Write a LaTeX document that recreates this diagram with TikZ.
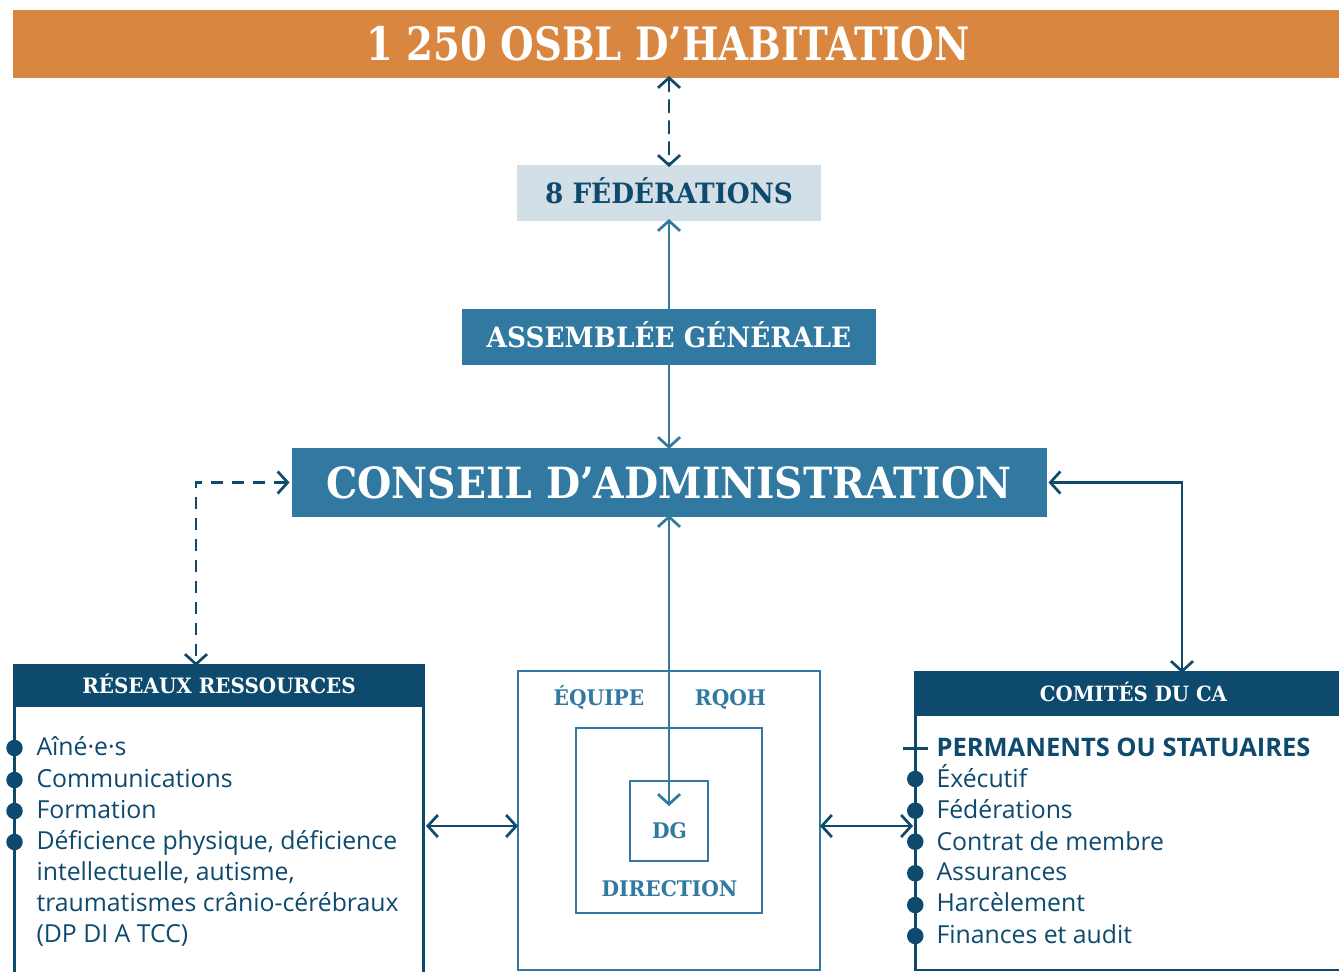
\documentclass[tikz,border=0pt]{standalone}
\usepackage{fontspec}
\setmainfont{Open Sans}
\newfontfamily\slab[FakeStretch=0.94]{DejaVu Serif}
\newfontfamily\slabtitle[FakeStretch=0.84]{DejaVu Serif}
\newfontfamily\slabca[FakeStretch=0.915]{DejaVu Serif}
\usetikzlibrary{arrows.meta}
\definecolor{orangeb}{HTML}{D98740}
\definecolor{lightb}{HTML}{D3DFE6}
\definecolor{medb}{HTML}{3179A1}
\definecolor{navy}{HTML}{0E4A6E}
\tikzset{barb/.tip={Straight Barb[length=10pt,width=22pt]}}
\begin{document}
\begin{tikzpicture}[x=1pt,y=-1pt,
  every node/.style={inner sep=0pt, outer sep=0pt},
  hd/.style={font=\slab\bfseries\fontsize{#1}{#1}\selectfont, text height=0.729*#1pt, text depth=0pt},
  body/.style={font=\fontsize{24.8}{24.8}\selectfont, text=navy, anchor=base west},
  bodyb/.style={font=\bfseries\fontsize{25.5}{25.5}\selectfont, text=navy, anchor=base west},
  conn/.style={line width=2.7pt, draw=#1, arrows={barb-barb}, line cap=round},
  conn/.default=navy,
  dashconn/.style={conn, dash pattern=on 12pt off 9pt},
  frame/.style={line width=2.8pt, draw=#1},
  dot/.style={circle, fill=navy, minimum size=16.5pt},
]
\clip (0,0) rectangle (1339,972);
\fill[white] (0,0) rectangle (1339,972);

% top bar
\node[fill=orangeb, minimum width=1326pt, minimum height=68pt, anchor=north west] (osbl) at (13,10) {};
\node[font=\slabtitle\bfseries\fontsize{46}{46}\selectfont, text height=33.5pt, text depth=0pt, text=white] (osbltxt) at (668,44) {1 250 OSBL D’HABITATION};

% federations
\node[fill=lightb, minimum width=304pt, minimum height=56pt, hd=28, text=navy] (fed) at (669,193) {8 FÉDÉRATIONS};

% assemblee
\node[fill=medb, minimum width=414pt, minimum height=56pt, hd=28, text=white] (ag) at (669,337) {ASSEMBLÉE GÉNÉRALE};

% conseil
\node[fill=medb, minimum width=755pt, minimum height=69pt, font=\slabca\bfseries\fontsize{43}{43}\selectfont, text height=31.3pt, text depth=0pt, text=white] (ca) at (669,482.5) {CONSEIL D’ADMINISTRATION};

% reseaux
\node[fill=navy, minimum width=412pt, minimum height=43pt, anchor=north west] (rr) at (13,664) {};
\node[hd=21.2, text=white] (rrtxt) at (219,686) {RÉSEAUX RESSOURCES};
\coordinate (rrbl) at (14.5,975);
\coordinate (rrbr) at (423.5,975);
\draw[frame=navy] (rr.south west -| rrbl) -- (rrbl);
\draw[frame=navy] (rr.south east -| rrbr) -- (rrbr);

\node[dot] (r1) at (14.5,748) {};
\node[dot] (r2) at (14.5,780) {};
\node[dot] (r3) at (14.5,811) {};
\node[dot] (r4) at (14.5,842) {};
\node[body] (rt1) at (36.5,755) {Aîné·e·s};
\node[body] (rt2) at (36.5,787.5) {Communications};
\node[body] (rt3) at (36.5,818.5) {Formation};
\node[body] (rt4) at (36.5,849.5) {Déficience physique, déficience};
\node[body] (rt5) at (36.5,880.7) {intellectuelle, autisme,};
\node[body] (rt6) at (36.5,911.7) {traumatismes crânio-cérébraux};
\node[body] (rt7) at (36.5,942.7) {(DP DI A TCC)};

% equipe / direction / DG
\node[frame=medb, minimum width=302pt, minimum height=299pt] (eq) at (669,820.5) {};
\node[frame=medb, minimum width=186pt, minimum height=185pt] (dir) at (669,820.5) {};
\node[frame=medb, minimum width=78pt, minimum height=80pt] (dg) at (669,821) {};
\node[hd=21.5, text=medb] (eqtxt) at (599,698) {ÉQUIPE};
\node[hd=21.5, text=medb] (rqtxt) at (730.5,698) {RQOH};
\node[hd=21.5, text=medb] (dirtxt) at (669.5,889) {DIRECTION};
\node[hd=21.5, text=medb] (dgtxt) at (669.5,831) {DG};
\coordinate (dgtip) at (669,806);

% comites
\node[fill=navy, minimum width=438pt, minimum height=45pt, anchor=north west] (cc) at (914,671) {};
\node[hd=21, text=white] (cctxt) at (1133.5,694) {COMITÉS DU CA};
\coordinate (ccbl) at (915.25,970);
\coordinate (ccbr) at (1345,970);
\draw[frame=navy] (cc.south west -| ccbl) -- (ccbl) -- (ccbr);
\coordinate (tickl) at (902.5,748.3);
\coordinate (tickr) at (927.5,748.3);
\draw[line width=2.7pt, navy] (tickl) -- (tickr);
\node[bodyb] (pm) at (936.5,756.7) {PERMANENTS OU STATUAIRES};
\node[dot] (c1) at (915.25,779) {};
\node[dot] (c2) at (915.25,810.7) {};
\node[dot] (c3) at (915.25,841.7) {};
\node[dot] (c4) at (915.25,873.3) {};
\node[dot] (c5) at (915.25,905) {};
\node[dot] (c6) at (915.25,936) {};
\node[body] (ct1) at (936.5,787.7) {Éxécutif};
\node[body] (ct2) at (936.5,818.5) {Fédérations};
\node[body] (ct3) at (936.5,850) {Contrat de membre};
\node[body] (ct4) at (936.5,880.7) {Assurances};
\node[body] (ct5) at (936.5,911.7) {Harcèlement};
\node[body] (ct6) at (936.5,943.3) {Finances et audit};

% connectors
\draw[dashconn] ([yshift=2pt]osbl.south -| fed.north) -- ([yshift=-2pt]fed.north);
\draw[conn=medb, arrows={-barb}] (ag.north) -- ([yshift=2pt]fed.south);
\draw[conn=medb, arrows={-barb}] (ag.south) -- ([yshift=-1pt]ca.north);
\coordinate (lcorner) at (196,482.5);
\coordinate (rcorner) at (1182,482.5);
\draw[dashconn, line cap=butt] ([xshift=-2pt]ca.west) -- (lcorner) -- ([yshift=-2pt]lcorner |- rr.north);
\draw[conn] ([xshift=2pt]ca.east) -- (rcorner) -- ([yshift=-2pt]rcorner |- cc.north);
\draw[conn=medb] ([yshift=2pt]ca.south) -- (dgtip);
\coordinate (rrmid) at (426,826);
\coordinate (ccmid) at (913,826);
\draw[conn] (rrmid) -- (rrmid -| eq.west);
\draw[conn] (eq.east |- ccmid) -- (ccmid);
\end{tikzpicture}
\end{document}
